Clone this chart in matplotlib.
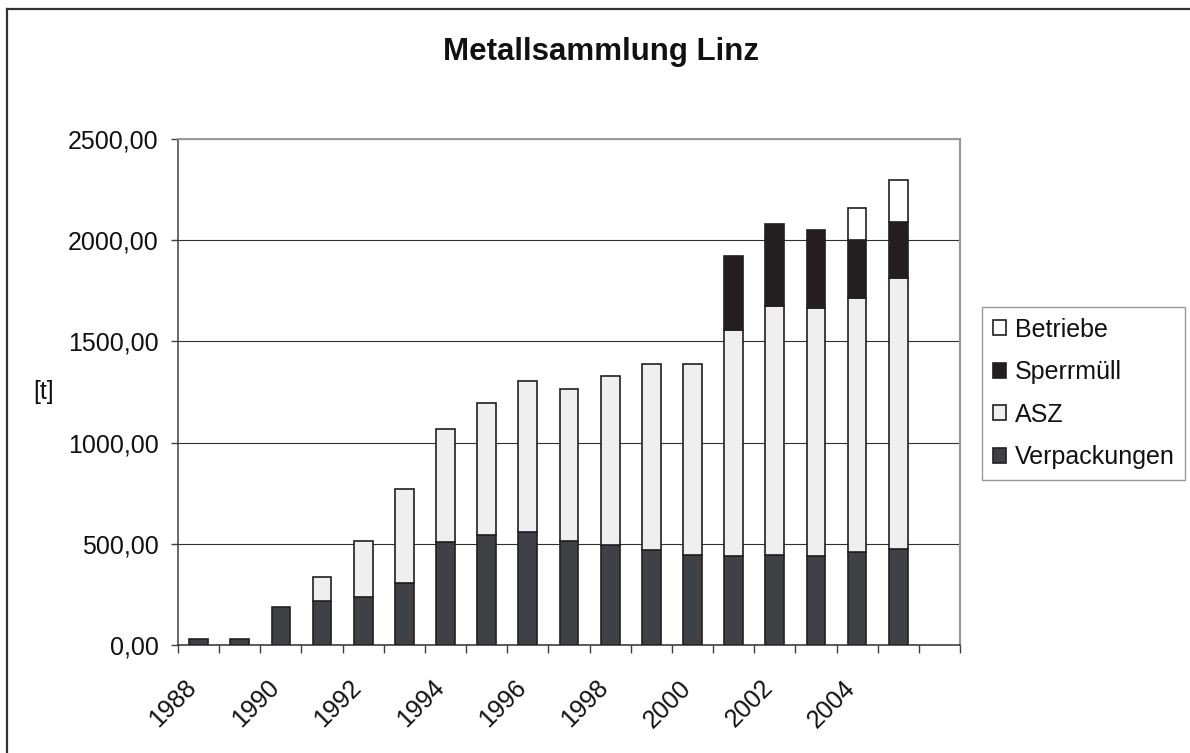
import numpy as np
import matplotlib
matplotlib.use("Agg")
import matplotlib.pyplot as plt
from matplotlib.lines import Line2D
from matplotlib.ticker import FuncFormatter, FixedLocator
from matplotlib.transforms import ScaledTranslation

plt.rcParams['font.family'] = ['Liberation Sans', 'DejaVu Sans']

# Collected metal per year in Linz [t]
years = list(range(1988, 2006))
verpackungen = [30, 30, 187, 218, 237, 307, 507, 543, 557, 515, 494, 469, 447, 438, 447, 438, 458, 476]
asz = [0, 0, 0, 117, 277, 464, 561, 655, 748, 752, 833, 917, 939, 1119, 1229, 1228, 1257, 1338]
sperrmuell = [0, 0, 0, 0, 0, 0, 0, 0, 0, 0, 0, 0, 0, 365, 406, 385, 287, 278]
betriebe = [0, 0, 0, 0, 0, 0, 0, 0, 0, 0, 0, 0, 0, 0, 0, 0, 157, 205]
label_years = [1988, 1990, 1992, 1994, 1996, 1998, 2000, 2002, 2004]
y_ticks = [0, 500, 1000, 1500, 2000, 2500]

W, H, DPI = 1190, 753, 100
fig = plt.figure(figsize=(W / DPI, H / DPI), dpi=DPI)
fig.patch.set_facecolor('white')

left, right, top, bottom = 178, 960, 139, 645
ax = fig.add_axes([left / W, 1 - bottom / H, (right - left) / W, (bottom - top) / H])

n_slots = len(years) + 1
x = np.arange(len(years))
bar_w = 0.455
edge = '#231f20'

series = [
    ('Verpackungen', verpackungen, '#404144'),
    ('ASZ', asz, '#efefef'),
    ('Sperrmüll', sperrmuell, '#231f20'),
    ('Betriebe', betriebe, '#ffffff'),
]

base = np.zeros(len(years))
handles = {}
for name, vals, color in series:
    vals = np.asarray(vals, dtype=float)
    mask = vals > 0
    bars = ax.bar(x[mask], vals[mask], width=bar_w, bottom=base[mask],
                  color=color, edgecolor=edge, linewidth=1.2, zorder=3, label=name)
    handles[name] = bars
    base = base + vals

ax.set_xlim(-0.5, n_slots - 0.5)
ax.set_ylim(0, 2500)

# y axis
ax.set_yticks(y_ticks)
ax.yaxis.set_major_formatter(FuncFormatter(lambda v, p: f"{v:.2f}".replace('.', ',')))
ax.tick_params(axis='y', direction='out', length=5, width=1, color='#404040',
               labelsize=18, pad=9, labelcolor='#111111')
ax.grid(axis='y', color='#303030', linewidth=0.8, zorder=1)
ax.set_axisbelow(True)

# x axis: boundary ticks + rotated year labels
ax.xaxis.set_minor_locator(FixedLocator(np.arange(-0.5, n_slots, 1.0)))
ax.tick_params(axis='x', which='minor', direction='out', length=5.5, width=1, color='#404040')
label_pos = [years.index(yv) for yv in label_years]
ax.set_xticks(label_pos)
ax.set_xticklabels([str(yv) for yv in label_years], rotation=45, ha='right', va='top',
                   rotation_mode='anchor', fontsize=18, color='#111111')
ax.tick_params(axis='x', which='major', length=0, pad=22)
shift = ScaledTranslation(-14 / DPI, 0, fig.dpi_scale_trans)
for lab in ax.get_xticklabels():
    lab.set_transform(lab.get_transform() + shift)

# spines
ax.spines['left'].set_color('#404040')
ax.spines['left'].set_linewidth(1.1)
ax.spines['bottom'].set_color('#303030')
ax.spines['bottom'].set_linewidth(1.1)
ax.spines['top'].set_color('#9a9a9a')
ax.spines['top'].set_linewidth(1.4)
ax.spines['right'].set_color('#9a9a9a')
ax.spines['right'].set_linewidth(1.6)

# title and unit
fig.text(601 / W, 1 - 52 / H, 'Metallsammlung Linz', ha='center', va='center',
         fontsize=22.5, fontweight='bold', color='#111111')
fig.text(44 / W, 1 - 392 / H, '[t]', ha='center', va='center', fontsize=18, color='#111111')

# legend (reverse stacking order)
order = ['Betriebe', 'Sperrmüll', 'ASZ', 'Verpackungen']
leg = fig.legend([handles[k] for k in order], order,
                 loc='upper left', bbox_to_anchor=(982 / W, 1 - 307 / H),
                 bbox_transform=fig.transFigure, fontsize=18, frameon=True,
                 fancybox=False, shadow=False, handlelength=0.55, handleheight=0.55,
                 handletextpad=0.35, labelspacing=0.74, borderpad=0.42, borderaxespad=0)
leg.get_frame().set_edgecolor('#808080')
leg.get_frame().set_linewidth(1.0)
for t in leg.get_texts():
    t.set_color('#111111')

# outer chart frame (top and left edges)
fig.add_artist(Line2D([7 / W, 7 / W], [0, 1 - 9 / H], transform=fig.transFigure,
                      color='#333333', linewidth=1.6))
fig.add_artist(Line2D([7 / W, 1], [1 - 9 / H, 1 - 9 / H], transform=fig.transFigure,
                      color='#333333', linewidth=1.6))

fig.savefig('out.png', dpi=DPI, facecolor='white')
